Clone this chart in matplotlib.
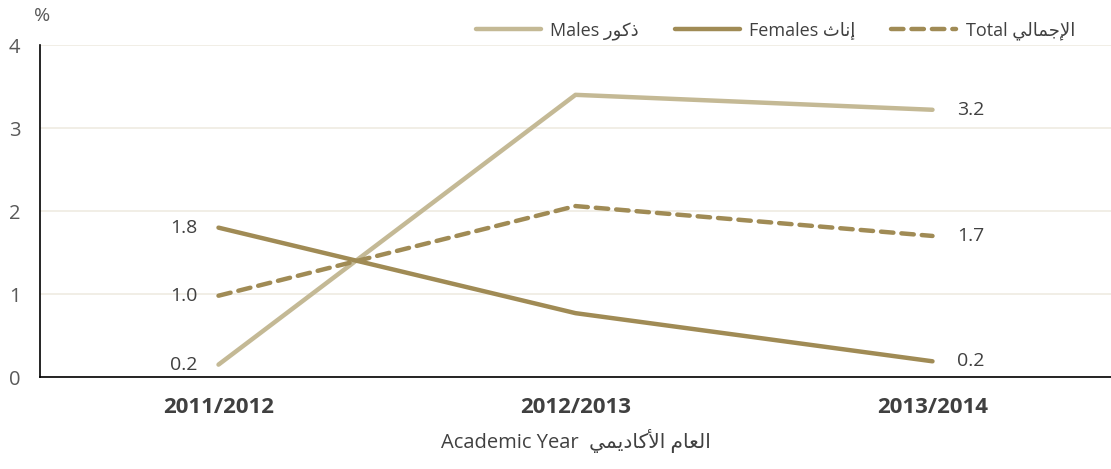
import numpy as np
import matplotlib.pyplot as plt

plt.rcParams['font.family'] = ['Open Sans', 'DejaVu Sans']

# Arabic words are written in presentation forms, in visual (left to right) order,
# because matplotlib does no Arabic shaping itself.
AR_MALES = "\uFEAD\uFEEE\uFEDB\uFEAB"                        # ذكور
AR_FEMALES = "\uFE99\uFE8E\uFEE7\uFE87"                      # إناث
AR_TOTAL = "\uFEF2\uFEDF\uFE8E\uFEE4\uFE9F\uFEF9\uFE8D"      # الإجمالي
AR_YEAR = ("\uFEF2\uFEE4\uFEF3\uFEA9\uFE8E\uFEDB\uFEF7\uFE8D" + " " +  # الأكاديمي
           "\uFEE1\uFE8E\uFECC\uFEDF\uFE8D")                           # العام

years = ["2011/2012", "2012/2013", "2013/2014"]
males = [0.15, 3.40, 3.22]
females = [1.80, 0.77, 0.19]
total = [0.98, 2.06, 1.70]
males_lbl = ["0.2", "", "3.2"]
females_lbl = ["1.8", "", "0.2"]
total_lbl = ["1.0", "", "1.7"]

light = "#C4B995"
dark = "#A08B55"

fig = plt.figure(figsize=(11.11, 4.69), dpi=100)
ax = fig.add_axes([0.036, 0.196, 0.964, 0.708])

x = np.arange(len(years))
l1, = ax.plot(x, males, color=light, lw=3.2, solid_capstyle='round')
l2, = ax.plot(x, females, color=dark, lw=3.2, solid_capstyle='round')
l3, = ax.plot(x, total, color=dark, lw=3.2, dashes=(2.8, 1.8), dash_capstyle='round')

for series, labels in [(males, males_lbl), (females, females_lbl), (total, total_lbl)]:
    for i, (v, t) in enumerate(zip(series, labels)):
        if not t:
            continue
        if i == 0:
            ax.annotate(t, (x[i], v), xytext=(-15, 0), textcoords='offset points',
                        ha='right', va='center', fontsize=14, color='#404040')
        else:
            ax.annotate(t, (x[i], v), xytext=(18, 0), textcoords='offset points',
                        ha='left', va='center', fontsize=14, color='#404040')

ax.set_xlim(-0.5, 2.5)
ax.set_ylim(0, 4)
ax.set_yticks([0, 1, 2, 3, 4])
ax.set_xticks(x)
ax.set_xticklabels(years, fontsize=16, fontweight='bold', color='#404040')
ax.tick_params(axis='y', labelsize=14.5, labelcolor='#595959', length=0, pad=14)
ax.tick_params(axis='x', length=0, pad=14)
ax.grid(axis='y', color='#EFEBE1', lw=1.2)
ax.set_axisbelow(True)
for s in ['top', 'right']:
    ax.spines[s].set_visible(False)
ax.spines['left'].set_color('black')
ax.spines['bottom'].set_color('black')
ax.spines['left'].set_linewidth(1.2)
ax.spines['bottom'].set_linewidth(1.2)

ax.set_xlabel("Academic Year  " + AR_YEAR, fontsize=14.5, color='#404040', labelpad=8)
fig.text(0.038, 0.965, "%", fontsize=14, color='#595959', ha='center', va='center')

fig.legend([l1, l2, l3],
           ["Males " + AR_MALES, "Females " + AR_FEMALES, "Total " + AR_TOTAL],
           loc='center right', bbox_to_anchor=(0.982, 0.935), ncol=3, frameon=False,
           fontsize=13, handlelength=3.6, columnspacing=2.0, handletextpad=0.5,
           labelcolor='#404040')

fig.savefig("out.png", dpi=100)
